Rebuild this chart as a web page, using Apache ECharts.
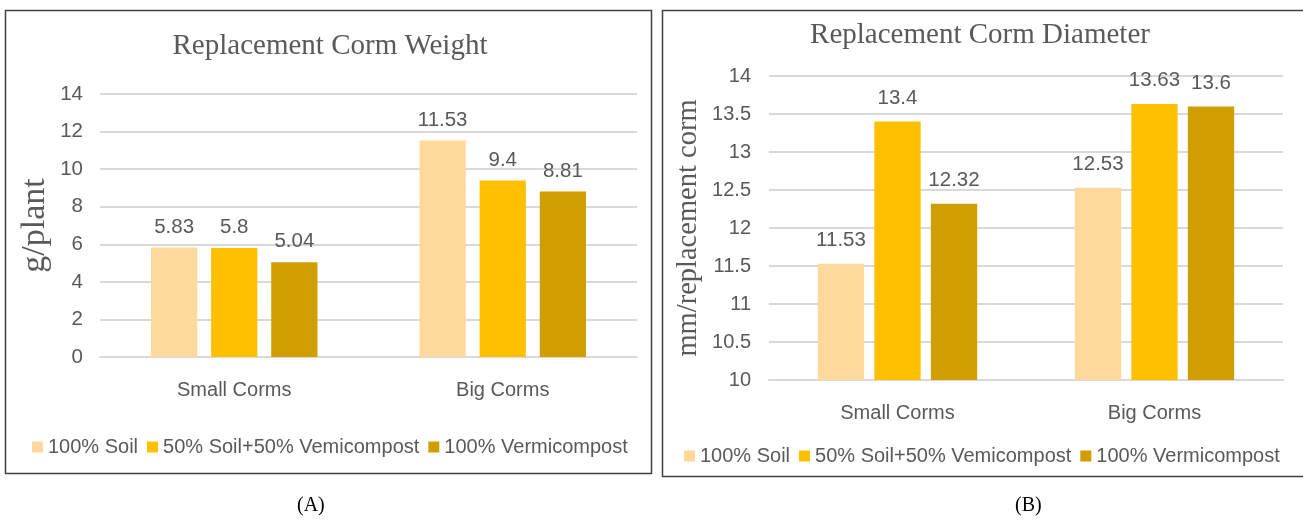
<!DOCTYPE html>
<html><head><meta charset="utf-8">
<script src="https://cdn.jsdelivr.net/npm/echarts@6/dist/echarts.min.js"></script>
<style>html,body{margin:0;padding:0;background:#fff}#c{width:1303px;height:524px}</style>
</head><body><div id="c"></div>
<script>
const categories = ['Small Corms', 'Big Corms'];
const seriesNames = ['100% Soil', '50% Soil+50% Vemicompost', '100% Vermicompost'];
const weightSoil = [5.83, 11.53];
const weightMix = [5.8, 9.4];
const weightVermi = [5.04, 8.81];
const diamSoil = [11.53, 12.53];
const diamMix = [13.4, 13.63];
const diamVermi = [12.32, 13.6];
const colors = ['#FFD89B', '#FFC000', '#D09E00'];
const sans = 'Liberation Sans';
const serif = 'Liberation Serif';
const gray = '#595959';

const chart = echarts.init(document.getElementById('c'));
function mkSeries(data, i, ax) {
  return {
    type: 'bar', name: seriesNames[i], data: data, xAxisIndex: ax, yAxisIndex: ax,
    itemStyle: { color: colors[i] },
    barGap: ax === 0 ? '30%' : '22%', barCategoryGap: '38%',
    label: { show: true, position: 'top', distance: ax === 0 ? 10 : 13, color: gray, fontFamily: sans, fontSize: 20.5 },
    emphasis: { disabled: true }
  };
}
const legendCommon = {
  data: seriesNames, itemWidth: 11, itemHeight: 11, itemGap: 9, icon: 'rect',
  textStyle: { color: gray, fontFamily: sans, fontSize: 20 }, selectedMode: false
};
chart.setOption({
  animation: false,
  title: [
    { text: 'Replacement Corm Weight', left: 325, top: 27, textAlign: 'center',
      textStyle: { fontFamily: serif, fontSize: 29, fontWeight: 'normal', color: gray } },
    { text: 'Replacement Corm Diameter', left: 975, top: 16, textAlign: 'center',
      textStyle: { fontFamily: serif, fontSize: 29, fontWeight: 'normal', color: gray } }
  ],
  legend: [
    Object.assign({ left: 27, top: 432 }, legendCommon),
    Object.assign({ left: 679, top: 441 }, legendCommon)
  ],
  grid: [
    { left: 100, right: 666, top: 94, bottom: 167 },
    { left: 769, right: 20, top: 76, bottom: 144 }
  ],
  xAxis: [0, 1].map(i => ({
    type: 'category', data: categories, gridIndex: i,
    axisLine: { lineStyle: { color: '#D9D9D9', width: 2 } }, axisTick: { show: false },
    axisLabel: { color: gray, fontFamily: sans, fontSize: 20, margin: 23 }
  })),
  yAxis: [
    { type: 'value', gridIndex: 0, min: 0, max: 14, interval: 2,
      name: 'g/plant', nameLocation: 'middle', nameGap: 48,
      nameTextStyle: { fontFamily: serif, fontSize: 34, color: gray },
      axisLine: { show: false }, axisTick: { show: false },
      axisLabel: { color: gray, fontFamily: sans, fontSize: 20.5, margin: 17 },
      splitLine: { lineStyle: { color: '#D9D9D9', width: 2 } } },
    { type: 'value', gridIndex: 1, min: 10, max: 14, interval: 0.5,
      name: 'mm/replacement corm', nameLocation: 'middle', nameGap: 66,
      nameTextStyle: { fontFamily: serif, fontSize: 28.5, color: gray },
      axisLine: { show: false }, axisTick: { show: false },
      axisLabel: { color: gray, fontFamily: sans, fontSize: 20, margin: 18 },
      splitLine: { lineStyle: { color: '#D9D9D9', width: 2 } } }
  ],
  series: [
    mkSeries(weightSoil, 0, 0), mkSeries(weightMix, 1, 0), mkSeries(weightVermi, 2, 0),
    mkSeries(diamSoil, 0, 1), mkSeries(diamMix, 1, 1), mkSeries(diamVermi, 2, 1)
  ],
  graphic: [
    { type: 'rect', shape: { x: 5.5, y: 10.5, width: 646, height: 463 }, style: { fill: 'none', stroke: '#404040', lineWidth: 1.5 }, z: -1 },
    { type: 'rect', shape: { x: 662.5, y: 10.5, width: 645, height: 466 }, style: { fill: 'none', stroke: '#404040', lineWidth: 1.5 }, z: -1 },
    { type: 'text', left: 297, top: 496, style: { text: '(A)', font: '20px "Liberation Serif"', fill: '#000' } },
    { type: 'text', left: 1015, top: 496, style: { text: '(B)', font: '20px "Liberation Serif"', fill: '#000' } }
  ]
});
</script></body></html>
